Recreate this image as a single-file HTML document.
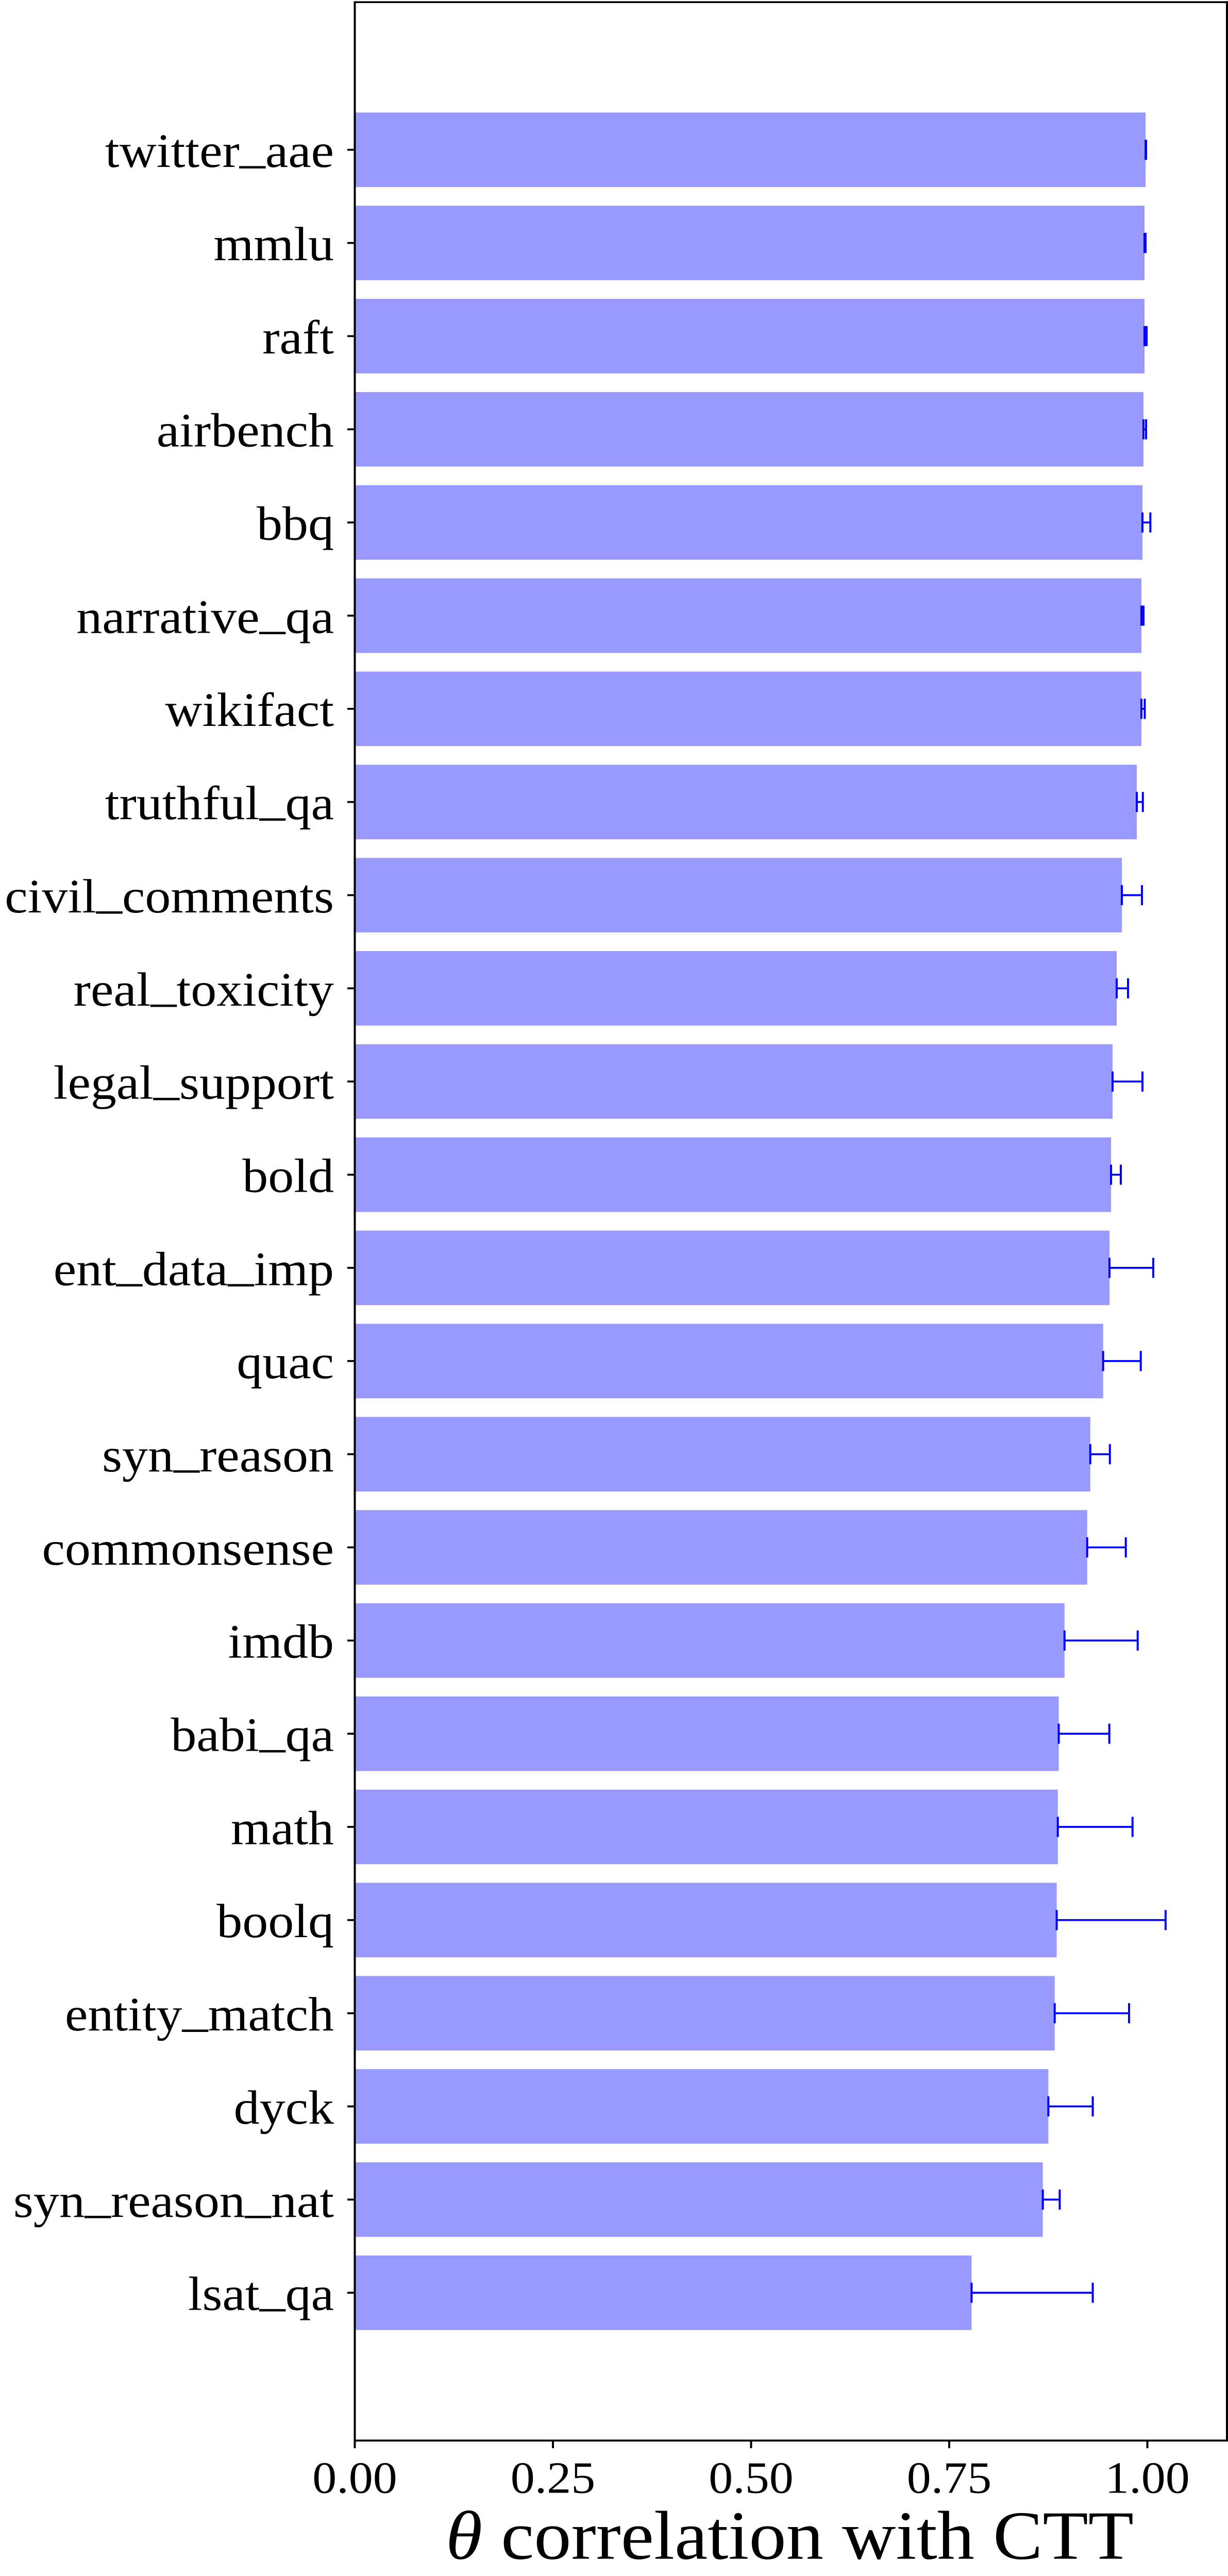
<!DOCTYPE html>
<html lang="en">
<head>
<meta charset="utf-8">
<title>Theta correlation with CTT</title>
<style>
  html, body { margin: 0; padding: 0; background: #ffffff; }
  html, body { width: 2383px; height: clamp(5000px, 100vh, 5383px); overflow: hidden; }
  svg { display: block; width: 2383px; height: clamp(5000px, 100vh, 5383px); }
  text { font-family: "Liberation Serif", serif; fill: #000000; }
</style>
</head>
<body>
<svg id="chart" xmlns="http://www.w3.org/2000/svg" viewBox="0 0 2383 5383" preserveAspectRatio="none">
  <rect x="0" y="0" width="2383" height="5383" fill="#ffffff"></rect>
  <g id="bars"></g>
  <g id="errors"></g>
  <g id="yaxis"></g>
  <g id="xaxis"></g>
  <g id="spines">
    <line x1="686.5" y1="4.5" x2="2383" y2="4.5" stroke="#000" stroke-width="4"></line>
    <line x1="686.5" y1="5100" x2="2383" y2="5100" stroke="#000" stroke-width="4"></line>
    <line x1="688.5" y1="2.5" x2="688.5" y2="5102" stroke="#000" stroke-width="4"></line>
    <line x1="2381" y1="2.5" x2="2381" y2="5102" stroke="#000" stroke-width="4"></line>
  </g>
  <text x="1532.5" y="5347" text-anchor="middle" font-size="144.5"><tspan font-style="italic">θ</tspan> correlation with CTT</text>
</svg>
<script>
const categories = ["twitter_aae","mmlu","raft","airbench","bbq","narrative_qa","wikifact","truthful_qa","civil_comments","real_toxicity","legal_support","bold","ent_data_imp","quac","syn_reason","commonsense","imdb","babi_qa","math","boolq","entity_match","dyck","syn_reason_nat","lsat_qa"];
const correlations = [0.9978,0.9964,0.9964,0.9951,0.9938,0.9925,0.9925,0.9867,0.9678,0.9613,0.9561,0.9542,0.9522,0.9442,0.9280,0.9241,0.8955,0.8882,0.8870,0.8856,0.8831,0.8751,0.8681,0.7782];
const upperBounds = [0.9984,0.9977,0.9990,0.9984,1.0038,0.9951,0.9967,0.9943,0.9932,0.9756,0.9938,0.9665,1.0075,0.9917,0.9527,0.9728,0.9878,0.9520,0.9813,1.0230,0.9769,0.9311,0.8894,0.9311];
const xTickValues = [0,0.25,0.5,0.75,1];
const xTickLabels = ["0.00","0.25","0.50","0.75","1.00"];

const SVG_NS = "http://www.w3.org/2000/svg";
const plotLeft = 688.5, pxPerUnit = 1538;
const firstCenter = 313, rowStep = 194.7, barHeightRatio = 0.8;
const BAR_FILL = "#9999ff", ERR_COLOR = "#0000ff";

function xScale(v) { return plotLeft + v * pxPerUnit; }
function yScale(i) { return firstCenter + i * rowStep; }
function make(tag, attrs, parent) {
  const el = document.createElementNS(SVG_NS, tag);
  for (const k in attrs) el.setAttribute(k, attrs[k]);
  parent.appendChild(el);
  return el;
}
/* The reference typesets underscores sitting on the baseline, so each one is raised. */
function fillLabel(label, name) {
  const parts = name.split("_");
  parts.forEach(function (part, idx) {
    const lift = idx > 0 ? 10 : 0;
    if (idx > 0) {
      const us = make("tspan", { dy: -10 }, label);
      us.textContent = "_";
    }
    const run = make("tspan", lift ? { dy: lift } : {}, label);
    run.textContent = part;
  });
}

const barsGroup = document.getElementById("bars");
const errorsGroup = document.getElementById("errors");
const yAxisGroup = document.getElementById("yaxis");
const xAxisGroup = document.getElementById("xaxis");
const barHeight = rowStep * barHeightRatio;

categories.forEach(function (cat, i) {
  const cy = yScale(i);
  const x0 = xScale(0), x1 = xScale(correlations[i]), x2 = xScale(upperBounds[i]);

  const bar = make("rect", { x: x0, y: cy - barHeight / 2, width: x1 - x0, height: barHeight, fill: BAR_FILL }, barsGroup);
  
  

  const stem = make("line", { x1: x1, y1: cy, x2: x2, y2: cy, stroke: ERR_COLOR, "stroke-width": 4 }, errorsGroup);
  
  

  const capLow = make("line", { x1: x1, y1: cy - 21, x2: x1, y2: cy + 21, stroke: ERR_COLOR, "stroke-width": 4 }, errorsGroup);
  
  

  const capHigh = make("line", { x1: x2, y1: cy - 21, x2: x2, y2: cy + 21, stroke: ERR_COLOR, "stroke-width": 4 }, errorsGroup);
  
  

  const tick = make("line", { x1: 674, y1: cy, x2: 688, y2: cy, stroke: "#000", "stroke-width": 4 }, yAxisGroup);
  
  

  const label = make("text", { x: 648, y: cy + 36, "text-anchor": "end", "font-size": 100 }, yAxisGroup);
  
  
  fillLabel(label, cat);
});

xTickValues.forEach(function (v, i) {
  const x = xScale(v);
  const tick = make("line", { x1: x, y1: 5100, x2: x, y2: 5116, stroke: "#000", "stroke-width": 4 }, xAxisGroup);
  
  

  const label = make("text", { x: x, y: 5209, "text-anchor": "middle", "font-size": 94 }, xAxisGroup);
  
  
  label.textContent = xTickLabels[i];
});
</script>
</body>
</html>
